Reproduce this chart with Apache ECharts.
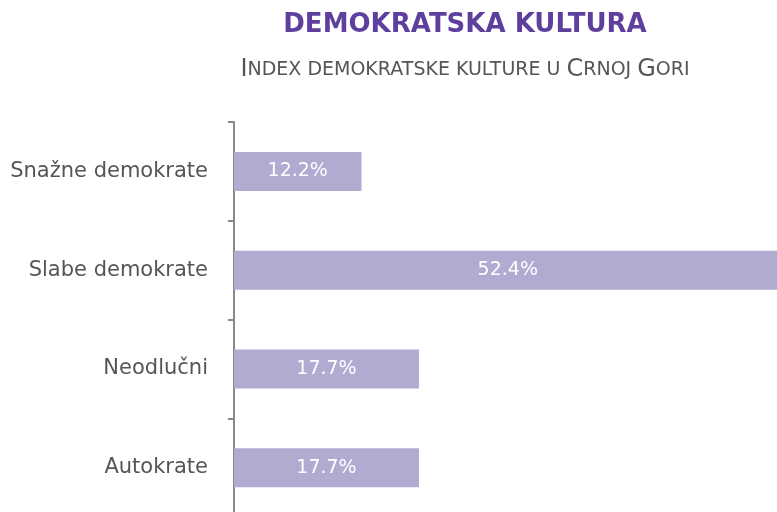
<!DOCTYPE html>
<html>
<head>
<meta charset="utf-8">
<script src="https://cdn.jsdelivr.net/npm/echarts@6/dist/echarts.min.js"></script>
<style>
  html, body { margin: 0; padding: 0; background: #fff; }
  #chart { width: 777px; height: 512px; }
</style>
</head>
<body>
<div id="chart"></div>
<script>
const categories = ["Snažne demokrate", "Slabe demokrate", "Neodlučni", "Autokrate"];
const values = [12.2, 52.4, 17.7, 17.7];

const chart = echarts.init(document.getElementById("chart"));

const option = {
  animation: false,
  title: {
    text: "DEMOKRATSKA KULTURA",
    subtext: "{b|I}{s|NDEX DEMOKRATSKE KULTURE U }{b|C}{s|RNOJ }{b|G}{s|ORI}",
    left: 460,
    textAlign: "center",
    top: 7,
    itemGap: 20,
    textStyle: {
      fontFamily: "DejaVu Sans",
      fontWeight: "bold",
      fontSize: 26,
      color: "#5f3f9e",
    },
    subtextStyle: {
      rich: {
        b: { fontFamily: "DejaVu Sans", fontSize: 24, color: "#555" },
        s: { fontFamily: "DejaVu Sans", fontSize: 19, color: "#555" },
      },
    },
  },
  grid: {
    left: 234,
    top: 122,
    width: 627,
    height: 395,
    outerBoundsMode: "none",
    containLabel: false,
  },
  xAxis: {
    type: "value",
    min: 0,
    max: 60,
    show: false,
  },
  yAxis: {
    type: "category",
    inverse: true,
    data: categories,
    axisLine: { show: true, lineStyle: { color: "#888", width: 2 } },
    axisTick: { show: true, length: 6, lineStyle: { color: "#888", width: 2 } },
    axisLabel: {
      fontFamily: "DejaVu Sans",
      fontSize: 21,
      color: "#555",
      margin: 26,
    },
  },
  series: [
    {
      type: "bar",
      data: values,
      barWidth: 39,
      itemStyle: { color: "#b1aad1" },
      label: {
        show: true,
        position: "inside",
        formatter: (p) => p.value.toFixed(1) + "%",
        fontFamily: "DejaVu Sans",
        fontSize: 19,
        color: "#fff",
      },
    },
  ],
};

chart.setOption(option);
</script>
</body>
</html>
